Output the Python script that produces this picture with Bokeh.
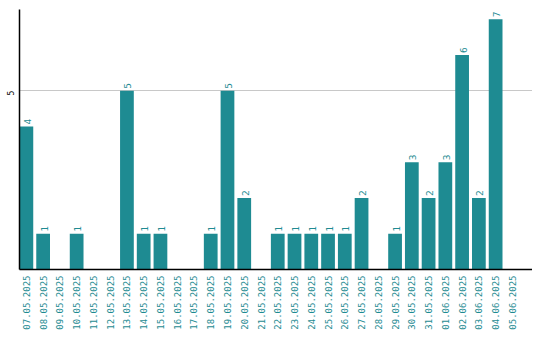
import math
from bokeh.plotting import figure
from bokeh.models import ColumnDataSource, Range1d, FixedTicker
from bokeh.core.properties import value
from bokeh.embed import file_html
from bokeh.resources import INLINE

dates = ["07.05.2025", "08.05.2025", "09.05.2025", "10.05.2025", "11.05.2025",
         "12.05.2025", "13.05.2025", "14.05.2025", "15.05.2025", "16.05.2025",
         "17.05.2025", "18.05.2025", "19.05.2025", "20.05.2025", "21.05.2025",
         "22.05.2025", "23.05.2025", "24.05.2025", "25.05.2025", "26.05.2025",
         "27.05.2025", "28.05.2025", "29.05.2025", "30.05.2025", "31.05.2025",
         "01.06.2025", "02.06.2025", "03.06.2025", "04.06.2025", "05.06.2025"]
counts = [4, 1, 0, 1, 0, 0, 5, 1, 1, 0, 0, 1, 5, 2, 0, 1, 1, 1, 1, 1,
          2, 0, 1, 3, 2, 3, 6, 2, 7, 0]
y_ticks = [5]

TEAL = "#1e8b92"
FONT = "DejaVu Sans Mono"

idx = list(range(len(dates)))
src = ColumnDataSource(dict(x=idx, top=counts))
nz = [i for i, c in enumerate(counts) if c > 0]
lab = ColumnDataSource(dict(x=[idx[i] for i in nz], y=[counts[i] for i in nz],
                            t=[str(counts[i]) for i in nz]))

p = figure(width=532, height=332, output_backend="svg", toolbar_location=None,
           x_range=Range1d(-0.41, 30.2), y_range=Range1d(0, 7.27),
           min_border_left=0, min_border_right=0, min_border_top=9, min_border_bottom=0)
p.outline_line_color = None
p.background_fill_color = "white"

p.vbar(x="x", top="top", width=0.82, bottom=0, source=src, fill_color=TEAL, line_color=None)
p.text(x="x", y="y", text="t", source=lab, angle=math.pi / 2, text_align="left",
       text_baseline="middle", y_offset=-2, x_offset=1, text_color=TEAL,
       text_font=value(FONT), text_font_size="9.5px")

p.xgrid.grid_line_color = None
p.ygrid.ticker = FixedTicker(ticks=y_ticks)
p.ygrid.grid_line_color = "#c8c8c8"

p.xaxis.ticker = FixedTicker(ticks=idx)
p.xaxis.major_label_overrides = {i: d for i, d in enumerate(dates)}
p.xaxis.major_label_orientation = math.pi / 2
p.xaxis.major_label_text_color = TEAL
p.xaxis.major_label_text_font = FONT
p.xaxis.major_label_text_font_size = "9px"
p.xaxis.major_label_standoff = 0
p.xaxis.major_tick_line_color = None
p.xaxis.minor_tick_line_color = None
p.xaxis.axis_line_color = "#000000"
p.xaxis.axis_line_width = 1.5

p.yaxis.ticker = FixedTicker(ticks=y_ticks)
p.yaxis.major_label_orientation = math.pi / 2
p.yaxis.major_label_text_color = "black"
p.yaxis.major_label_text_font = FONT
p.yaxis.major_label_text_font_size = "8px"
p.yaxis.major_label_standoff = 3
p.yaxis.major_tick_line_color = None
p.yaxis.minor_tick_line_color = None
p.yaxis.axis_line_color = "#000000"
p.yaxis.axis_line_width = 1.5

open("out.html", "w").write(file_html(p, INLINE))
